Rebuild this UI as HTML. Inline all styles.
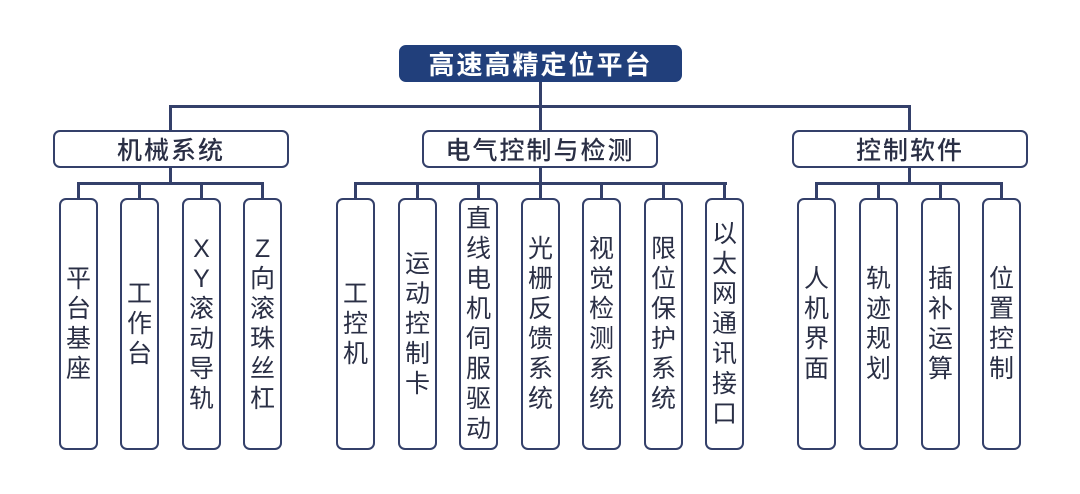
<!DOCTYPE html><html><head><meta charset="utf-8"><style>
body{margin:0;width:1080px;height:494px;background:#fff;position:relative;overflow:hidden;font-family:"Liberation Sans","Noto Sans CJK SC",sans-serif;color:#2a2f45}
.b{position:absolute;box-sizing:border-box;border:2.5px solid #34406a;border-radius:7px;background:#fff;display:flex;align-items:center;justify-content:center}
.l{top:198px;height:252px;width:39px;flex-direction:column;font-size:25px;line-height:30px;text-align:center}
.m{top:130px;height:38px;width:236px;font-size:25px;letter-spacing:2px;font-weight:500}
.h{position:absolute;background:#34406a}
</style></head><body>
<div class="b" style="left:399px;top:45px;width:283px;height:37px;background:#213f7b;border-color:#213f7b;color:#fff;font-size:26px;font-weight:bold;letter-spacing:2px">高速高精定位平台</div>
<div class="h" style="left:539px;top:82px;width:3px;height:48px"></div>
<div class="h" style="left:169px;top:105px;width:742px;height:3px"></div>
<div class="h" style="left:169px;top:105px;width:3px;height:25px"></div>
<div class="h" style="left:908px;top:105px;width:3px;height:25px"></div>
<div class="b m" style="left:53px">机械系统</div>
<div class="b m" style="left:422px">电气控制与检测</div>
<div class="b m" style="left:792px">控制软件</div>
<div class="h" style="left:169px;top:167px;width:3px;height:17px"></div>
<div class="h" style="left:539px;top:167px;width:3px;height:17px"></div>
<div class="h" style="left:908px;top:167px;width:3px;height:17px"></div>
<div class="h" style="left:77px;top:182px;width:187px;height:3px"></div>
<div class="h" style="left:354px;top:182px;width:373px;height:3px"></div>
<div class="h" style="left:815px;top:182px;width:188px;height:3px"></div>
<div class="h" style="left:77px;top:182px;width:3px;height:17px"></div>
<div class="h" style="left:138px;top:182px;width:3px;height:17px"></div>
<div class="h" style="left:200px;top:182px;width:3px;height:17px"></div>
<div class="h" style="left:261px;top:182px;width:3px;height:17px"></div>
<div class="h" style="left:354px;top:182px;width:3px;height:17px"></div>
<div class="h" style="left:416px;top:182px;width:3px;height:17px"></div>
<div class="h" style="left:477px;top:182px;width:3px;height:17px"></div>
<div class="h" style="left:539px;top:182px;width:3px;height:17px"></div>
<div class="h" style="left:600px;top:182px;width:3px;height:17px"></div>
<div class="h" style="left:662px;top:182px;width:3px;height:17px"></div>
<div class="h" style="left:723px;top:182px;width:3px;height:17px"></div>
<div class="h" style="left:815px;top:182px;width:3px;height:17px"></div>
<div class="h" style="left:877px;top:182px;width:3px;height:17px"></div>
<div class="h" style="left:939px;top:182px;width:3px;height:17px"></div>
<div class="h" style="left:1000px;top:182px;width:3px;height:17px"></div>
<div class="b l" style="left:59px">平<br>台<br>基<br>座</div>
<div class="b l" style="left:120px">工<br>作<br>台</div>
<div class="b l" style="left:182px">X<br>Y<br>滚<br>动<br>导<br>轨</div>
<div class="b l" style="left:243px">Z<br>向<br>滚<br>珠<br>丝<br>杠</div>
<div class="b l" style="left:336px">工<br>控<br>机</div>
<div class="b l" style="left:398px">运<br>动<br>控<br>制<br>卡</div>
<div class="b l" style="left:459px">直<br>线<br>电<br>机<br>伺<br>服<br>驱<br>动</div>
<div class="b l" style="left:521px">光<br>栅<br>反<br>馈<br>系<br>统</div>
<div class="b l" style="left:582px">视<br>觉<br>检<br>测<br>系<br>统</div>
<div class="b l" style="left:644px">限<br>位<br>保<br>护<br>系<br>统</div>
<div class="b l" style="left:705px">以<br>太<br>网<br>通<br>讯<br>接<br>口</div>
<div class="b l" style="left:797px">人<br>机<br>界<br>面</div>
<div class="b l" style="left:859px">轨<br>迹<br>规<br>划</div>
<div class="b l" style="left:921px">插<br>补<br>运<br>算</div>
<div class="b l" style="left:982px">位<br>置<br>控<br>制</div>
</body></html>
